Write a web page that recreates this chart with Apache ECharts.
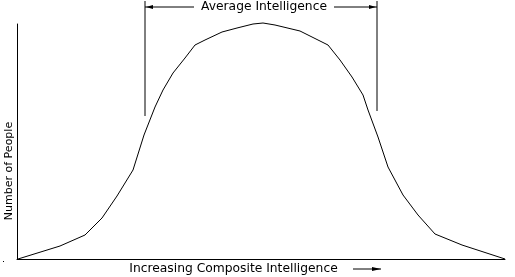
<!DOCTYPE html>
<html>
<head>
<meta charset="utf-8">
<script src="https://cdn.jsdelivr.net/npm/echarts@6/dist/echarts.min.js"></script>
<style>html,body{margin:0;padding:0;background:#fff}#c{width:515px;height:277px}</style>
</head>
<body>
<div id="c"></div>
<script>
// Composite intelligence position (arbitrary units) and number of people (arbitrary units)
var intelligence = [1, 43, 68, 85, 100, 116, 127, 138, 146, 156, 168, 178, 188, 205, 220, 236, 246, 258, 283, 311, 323, 335, 346, 351, 361, 371, 386, 401, 418, 445, 488];
var people       = [0, 13, 24, 41, 63, 89, 124, 152, 169, 186, 201, 214, 219, 227, 231, 235, 236, 234, 228, 214, 199, 182, 164, 149, 122, 92, 64, 44, 25, 14, 0];
var averageRange = [128, 360];
var xLabel = 'Increasing Composite Intelligence';
var yLabel = 'Number of People';
var bracketLabel = 'Average Intelligence';

var chart = echarts.init(document.getElementById('c'), null, {renderer: 'canvas'});
var FONT = '"DejaVu Sans", sans-serif';
var pts = intelligence.map(function (x, i) { return [x, people[i]]; });

chart.setOption({
  animation: false,
  backgroundColor: '#fff',
  grid: {left: 17, right: 10, top: 24, bottom: 18},
  xAxis: {
    type: 'value', min: 0, max: 488,
    axisLine: {show: true, lineStyle: {color: '#000', width: 1}},
    axisTick: {show: false}, axisLabel: {show: false}, splitLine: {show: false}
  },
  yAxis: {
    type: 'value', min: 0, max: 235,
    axisLine: {show: true, lineStyle: {color: '#000', width: 1}},
    axisTick: {show: false}, axisLabel: {show: false}, splitLine: {show: false}
  },
  series: [{
    type: 'line',
    data: pts,
    showSymbol: false,
    symbol: 'none',
    clip: false,
    lineStyle: {color: '#000', width: 1}
  }]
});

var xl = chart.convertToPixel({xAxisIndex: 0}, averageRange[0]);
var xr = chart.convertToPixel({xAxisIndex: 0}, averageRange[1]);
var ay = 7;
chart.setOption({
  graphic: [
    {type: 'line', shape: {x1: xl, y1: 1, x2: xl, y2: 116}, style: {stroke: '#000', lineWidth: 1}},
    {type: 'line', shape: {x1: xr, y1: 1, x2: xr, y2: 111}, style: {stroke: '#000', lineWidth: 1}},
    {type: 'line', shape: {x1: xl, y1: ay, x2: 194, y2: ay}, style: {stroke: '#000', lineWidth: 1}},
    {type: 'line', shape: {x1: 334, y1: ay, x2: xr, y2: ay}, style: {stroke: '#000', lineWidth: 1}},
    {type: 'polygon', shape: {points: [[xl + 1, ay], [xl + 8, ay - 2], [xl + 8, ay + 2]]}, style: {fill: '#000'}},
    {type: 'polygon', shape: {points: [[xr - 1, ay], [xr - 8, ay - 2], [xr - 8, ay + 2]]}, style: {fill: '#000'}},
    {type: 'text', x: 264, y: ay, style: {text: bracketLabel, font: '12.3px ' + FONT, fill: '#000', textAlign: 'center', textVerticalAlign: 'middle'}},
    {type: 'text', x: 233.5, y: 269, style: {text: xLabel, font: '12.3px ' + FONT, fill: '#000', textAlign: 'center', textVerticalAlign: 'middle'}},
    {type: 'line', shape: {x1: 353, y1: 269, x2: 381, y2: 269}, style: {stroke: '#000', lineWidth: 1}},
    {type: 'polygon', shape: {points: [[381, 269], [372, 267], [372, 271]]}, style: {fill: '#000'}},
    {type: 'text', x: 9, y: 171, rotation: Math.PI / 2, style: {text: yLabel, font: '11px ' + FONT, fill: '#000', textAlign: 'center', textVerticalAlign: 'middle'}},
    {type: 'rect', shape: {x: 3, y: 261, width: 1, height: 1}, style: {fill: '#000'}}
  ]
});
</script>
</body>
</html>
